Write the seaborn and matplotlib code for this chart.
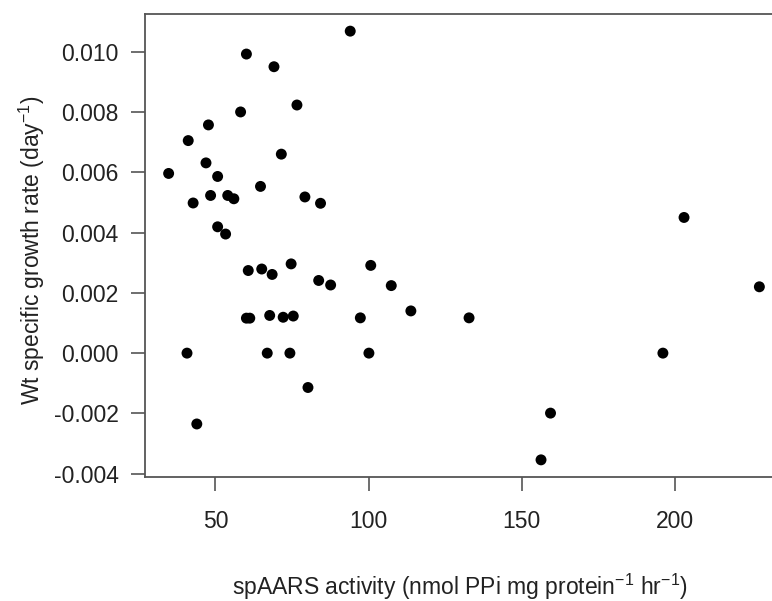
import numpy as np
import pandas as pd
import matplotlib
matplotlib.use("Agg")
import matplotlib.pyplot as plt
import seaborn as sns
from matplotlib.ticker import FixedLocator, StrMethodFormatter

# spAARS activity vs Wt specific growth rate
activity = [94.0, 60.1, 69.1, 76.6, 58.2, 47.7, 41.1, 71.5, 46.9, 34.7,
            50.7, 64.7, 48.4, 54.0, 56.0, 79.2, 84.3, 42.7, 50.7, 53.3,
            60.7, 65.1, 68.5, 74.7, 83.7, 87.6, 100.7, 107.4, 113.8, 60.1,
            61.2, 67.7, 72.1, 75.4, 97.3, 40.7, 66.9, 74.3, 100.1, 80.2,
            43.9, 203.0, 227.6, 132.8, 196.1, 159.4, 156.3]
growth = [0.01068, 0.00992, 0.00950, 0.00823, 0.00800, 0.00757, 0.00705, 0.00660, 0.00631, 0.00596,
          0.00586, 0.00553, 0.00523, 0.00523, 0.00512, 0.00518, 0.00497, 0.00498, 0.00419, 0.00395,
          0.00274, 0.00279, 0.00261, 0.00296, 0.00241, 0.00226, 0.00291, 0.00224, 0.00140, 0.00116,
          0.00116, 0.00125, 0.00119, 0.00123, 0.00117, 0.0, 0.0, 0.0, 0.0, -0.00114,
          -0.00235, 0.00450, 0.00220, 0.00117, 0.0, -0.00199, -0.00354]

x_ticks = [50, 100, 150, 200]
y_ticks = [-0.004, -0.002, 0.000, 0.002, 0.004, 0.006, 0.008, 0.010]

df = pd.DataFrame({"activity": activity, "growth": growth})

sns.set_style("ticks")
plt.rcParams["font.family"] = ["Liberation Sans", "DejaVu Sans"]
plt.rcParams["axes.unicode_minus"] = False
plt.rcParams["mathtext.fontset"] = "custom"
plt.rcParams["mathtext.rm"] = "Liberation Sans"
plt.rcParams["mathtext.it"] = "Liberation Sans"

fig = plt.figure(figsize=(7.72, 6.01), dpi=100)
ax = fig.add_axes([145 / 772, 124 / 601, 638 / 772, 463 / 601])

sns.scatterplot(data=df, x="activity", y="growth", color="black", s=62,
                edgecolor="none", linewidth=0, ax=ax)

# R style limits: 4% padding on data range
xr = max(activity) - min(activity)
yr = max(growth) - min(growth)
ax.set_xlim(min(activity) - 0.04 * xr, max(activity) + 0.04 * xr)
ax.set_ylim(min(growth) - 0.04 * yr, max(growth) + 0.04 * yr)

ax.xaxis.set_major_locator(FixedLocator(x_ticks))
ax.yaxis.set_major_locator(FixedLocator(y_ticks))
ax.yaxis.set_major_formatter(StrMethodFormatter("{x:.3f}"))

box_col = "#555555"
for sp in ax.spines.values():
    sp.set_visible(True)
    sp.set_color(box_col)
    sp.set_linewidth(1.3)

ax.tick_params(axis="both", direction="out", length=10, width=1.2, color=box_col,
               labelsize=16.5, labelcolor="#222222")
ax.tick_params(axis="x", pad=14)
ax.tick_params(axis="y", pad=9)

ax.set_xlabel("spAARS activity (nmol PPi mg protein$^{-1}$ hr$^{-1}$)", fontsize=16.5, color="#222222")
ax.set_ylabel("Wt specific growth rate (day$^{-1}$)", fontsize=16.5, color="#222222")
ax.xaxis.set_label_coords((460 - 145) / 638, (477 - 587) / 463)
ax.xaxis.label.set_verticalalignment("center")
ax.yaxis.set_label_coords((32 - 145) / 638, (477 - 250) / 463)
ax.yaxis.label.set_verticalalignment("center")

fig.savefig("out.png", dpi=100)
